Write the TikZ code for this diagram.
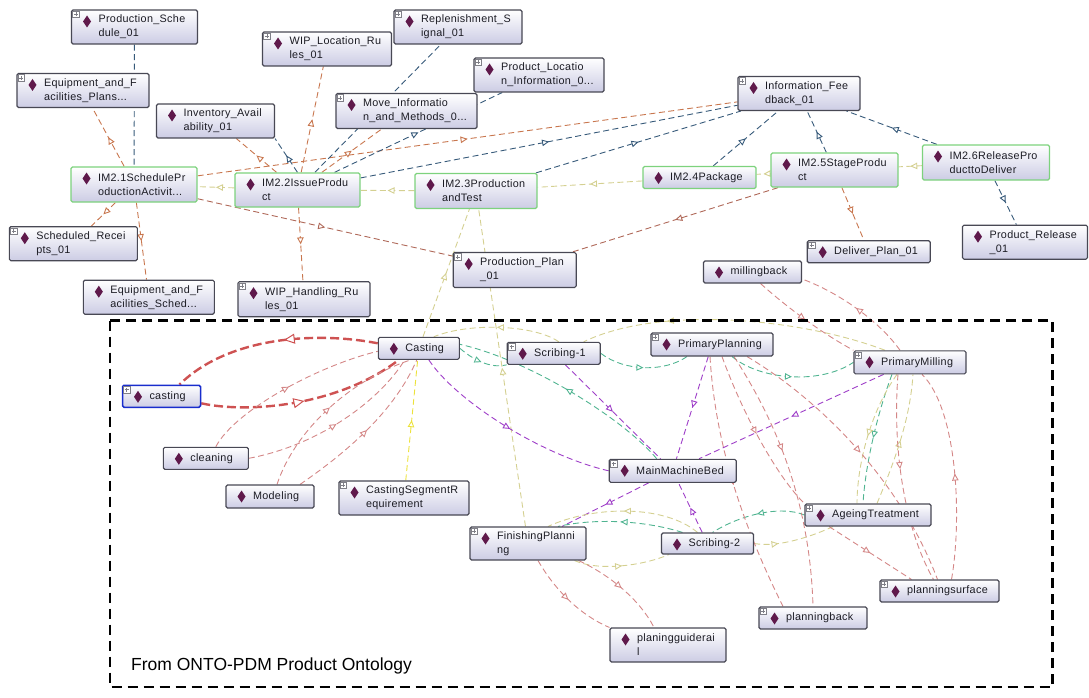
\documentclass[tikz,border=0pt]{standalone}
\usepackage{fontspec}
\newfontfamily\ontofont[LetterSpace=3]{Liberation Sans}
\newfontfamily\notefont{Liberation Sans}
\usepackage{xcolor}
\usepackage{tikz}
\usetikzlibrary{arrows.meta, decorations.markings, backgrounds}
\definecolor{OGBorder}{RGB}{72, 72, 84}
\definecolor{OGGreen}{RGB}{125, 210, 125}
\definecolor{OGSelect}{RGB}{25, 45, 205}
\definecolor{OGFill}{RGB}{204, 204, 228}
\definecolor{OGDiamond}{RGB}{95, 25, 75}
\definecolor{OGText}{RGB}{28, 28, 36}
\definecolor{OGOrange}{RGB}{200, 118, 78}
\definecolor{OGSteel}{RGB}{55, 90, 122}
\definecolor{OGOlive}{RGB}{212, 208, 145}
\definecolor{OGPink}{RGB}{212, 135, 135}
\definecolor{OGTeal}{RGB}{80, 180, 145}
\definecolor{OGPurple}{RGB}{158, 62, 200}
\definecolor{OGYellow}{RGB}{236, 226, 60}
\definecolor{OGRed}{RGB}{206, 82, 82}
\definecolor{OGBrown}{RGB}{175, 104, 88}

\tikzset{
  onto/.style={draw=OGBorder, line width=1.1pt, rounded corners=1.5pt,
    top color=white, bottom color=OGFill, inner sep=0pt, align=left,
    font=\ontofont\fontsize{10.8}{14}\selectfont, text=OGText,
    execute at begin node={\leftskip=27pt\relax},
    path picture={\fill[OGDiamond, sharp corners]
      ([xshift=15.5pt, yshift=-11.5pt]path picture bounding box.north west)
      ++(0,6pt) -- ++(4pt,-6pt) -- ++(-4pt,-6pt) -- ++(-4pt,6pt) -- cycle;}},
  process/.style={onto, draw=OGGreen, line width=1.3pt},
  picked/.style={onto, draw=OGSelect, line width=1.5pt},
  sz/.style 2 args={text width=#1pt, minimum width=#1pt, minimum height=#2pt},
  plusbox/.style={anchor=north west, draw=OGBorder!70, fill=white, line width=0.5pt,
    minimum size=6.5pt, inner sep=0pt, sharp corners,
    path picture={\draw[line width=0.6pt]
      ([xshift=-2pt]path picture bounding box.center) -- ++(4pt,0)
      ([yshift=-2pt]path picture bounding box.center) -- ++(0,4pt);}},
  link/.style={line width=0.9pt, dash pattern=on 6pt off 3.5pt},
  orangelink/.style={link, OGOrange},
  steellink/.style={link, OGSteel},
  olivelink/.style={link, OGOlive},
  pinklink/.style={link, OGPink},
  teallink/.style={link, OGTeal},
  purplelink/.style={link, OGPurple},
  yellowlink/.style={link, OGYellow},
  brownlink/.style={link, OGBrown},
  redlink/.style={OGRed, line width=2.4pt, dash pattern=on 9pt off 4pt},
  midtip/.style={postaction={decorate}, decoration={markings,
    mark=at position #1 with {\arrow{Triangle[fill=white, length=7pt, width=6.5pt]}}}},
  midtip/.default=0.5,
  bigtip/.style={postaction={decorate}, decoration={markings,
    mark=at position #1 with {\arrow{Triangle[fill=white, length=11pt, width=10pt, line width=1pt]}}}},
  bigtip/.default=0.5,
  frame/.style={black, line width=2.2pt, dash pattern=on 10pt off 6pt}
}

\begin{document}
\begin{tikzpicture}[x=1pt, y=-1pt]
  \useasboundingbox (0,0) rectangle (1089,698);

  % process ontology
  \node[onto, sz={126}{34}] (ps) at (134.5,27) {Production\_Sche\\dule\_01};
  \node[onto, sz={132}{34}] (efp) at (83,90.5) {Equipment\_and\_F\\acilities\_Plans...};
  \node[onto, sz={118}{34}] (inv) at (215.5,121) {Inventory\_Avail\\ability\_01};
  \node[onto, sz={129}{34}] (wiploc) at (327,49) {WIP\_Location\_Ru\\les\_01};
  \node[onto, sz={128}{34}] (repl) at (458,27) {Replenishment\_S\\ignal\_01};
  \node[onto, sz={130}{34}] (ploc) at (539,75) {Product\_Locatio\\n\_Information\_0...};
  \node[onto, sz={141}{35}] (move) at (406.5,111) {Move\_Informatio\\n\_and\_Methods\_0...};
  \node[onto, sz={122}{34}] (info) at (799,93.5) {Information\_Fee\\dback\_01};
  \node[process, sz={126}{35}] (im21) at (134,184.5) {IM2.1SchedulePr\\oductionActivit...};
  \node[process, sz={125}{34}] (im22) at (297.5,190) {IM2.2IssueProdu\\ct};
  \node[process, sz={122}{35}] (im23) at (476,191) {IM2.3Production\\andTest};
  \node[process, sz={113}{22}] (im24) at (699.5,177.5) {IM2.4Package};
  \node[process, sz={127}{34}] (im25) at (834.5,170) {IM2.5StageProdu\\ct};
  \node[process, sz={127}{35}] (im26) at (986,162.5) {IM2.6ReleasePro\\ducttoDeliver};
  \node[onto, sz={128}{34}] (srec) at (73.3,243.7) {Scheduled\_Recei\\pts\_01};
  \node[onto, sz={131}{34}] (efs) at (148.8,297.2) {Equipment\_and\_F\\acilities\_Sched...};
  \node[onto, sz={132}{35}] (wiph) at (304,299.2) {WIP\_Handling\_Ru\\les\_01};
  \node[onto, sz={123}{35}] (pplan) at (514.7,270) {Production\_Plan\\\_01};
  \node[onto, sz={123}{22}] (dplan) at (868.7,251.7) {Deliver\_Plan\_01};
  \node[onto, sz={125}{34}] (prel) at (1025,242.2) {Product\_Release\\\_01};
  \node[onto, sz={98}{22}] (mback) at (752.5,272) {millingback};

  % product ontology
  \node[onto, sz={81}{22}] (cast) at (418.8,348.3) {Casting};
  \node[picked, sz={78}{22}] (castl) at (161.5,396.3) {casting};
  \node[onto, sz={93}{22}] (scr1) at (553.7,353.3) {Scribing-1};
  \node[onto, sz={122}{23}] (ppl) at (712,344.5) {PrimaryPlanning};
  \node[onto, sz={112}{23}] (pmill) at (910,362.3) {PrimaryMilling};
  \node[onto, sz={85}{22}] (clean) at (205.8,458.3) {cleaning};
  \node[onto, sz={88}{23}] (model) at (270,496.5) {Modeling};
  \node[onto, sz={130}{34}] (csr) at (404,498) {CastingSegmentR\\equirement};
  \node[onto, sz={127}{23}] (mmb) at (672.7,470.8) {MainMachineBed};
  \node[onto, sz={126}{22}] (ageing) at (868,515) {AgeingTreatment};
  \node[onto, sz={116}{33}] (finp) at (528,543.5) {FinishingPlanni\\ng};
  \node[onto, sz={92}{21}] (scr2) at (707.5,543.5) {Scribing-2};
  \node[onto, sz={119}{22}] (psurf) at (939.5,591) {planningsurface};
  \node[onto, sz={108}{22}] (pback) at (813,618) {planningback};
  \node[onto, sz={116}{34}] (pguide) at (668,645) {planingguiderai\\l};

  \foreach \n in {ps,efp,wiploc,repl,ploc,move,info,srec,wiph,pplan,dplan,
                  castl,scr1,ppl,pmill,csr,mmb,ageing,finp,psurf,pback}
    \node[plusbox] (\n-plus) at ([shift={(1.5pt,-1.5pt)}]\n.north west) {};

  \begin{scope}[on background layer]
    \draw[steellink] (ps) -- (im21);
    \draw[orangelink, midtip] (im21) -- (efp);
    \draw[orangelink, midtip] (im21) -- (srec);
    \draw[orangelink, midtip] (im21) -- (efs);
    \draw[brownlink, midtip] (im21) -- (pplan);
    \draw[orangelink, midtip] (im21) -- (info);
    \draw[olivelink, midtip] (im22) -- (im21);
    \draw[olivelink, midtip] (im23) -- (im22);
    \draw[olivelink, midtip] (im24) -- (im23);
    \draw[olivelink, midtip] (im25) -- (im24);
    \draw[olivelink, midtip] (im26) -- (im25);
    \draw[orangelink, midtip] (im22) -- (wiph);
    \draw[orangelink, midtip] (im22) -- (wiploc);
    \draw[orangelink, midtip] (im22) -- (inv);
    \draw[steellink, midtip] (im22.north) -- (inv.south east);
    \draw[orangelink, midtip] (im22) -- (move);
    \draw[steellink, midtip] (im22) -- (repl);
    \draw[steellink, midtip] (im22) -- (ploc);
    \draw[steellink, midtip] (im22) -- (info);
    \draw[steellink, midtip] (im23) -- (info);
    \draw[steellink, midtip] (im24) -- (info);
    \draw[steellink, midtip] (im25) -- (info);
    \draw[steellink, midtip] (im26) -- (info);
    \draw[steellink, midtip] (im26) -- (prel);
    \draw[orangelink, midtip] (im25) -- (dplan);
    \draw[brownlink, midtip] (im25) -- (pplan);
    \draw[olivelink, midtip] (cast) -- (im23);
    \draw[olivelink, midtip] (finp) -- (im23);

    \draw[redlink, bigtip=0.45] ([yshift=5pt]cast.west) .. controls (320,332) and (230,335) .. ([xshift=18pt]castl.north);
    \draw[redlink, bigtip] ([yshift=-7pt]castl.east) .. controls (250,414) and (340,405) .. ([xshift=-20pt]cast.south);
    \draw[pinklink, midtip] ([xshift=10pt]clean.north) .. controls (235,410) and (320,365) .. ([yshift=-3pt]cast.west);
    \draw[pinklink, midtip] (clean.east) .. controls (320,445) and (380,400) .. ([xshift=-14pt]cast.south);
    \draw[pinklink, midtip] ([xshift=7pt]model.north) .. controls (295,430) and (350,380) .. ([xshift=-8pt]cast.south);
    \draw[pinklink, midtip] ([xshift=30pt]model.north) .. controls (350,450) and (395,410) .. ([xshift=-2pt]cast.south);
    \draw[yellowlink, midtip] (csr) -- (cast);
    \draw[purplelink, midtip] ([xshift=10pt]cast.south) .. controls (455,400) and (540,455) .. (mmb.west);
    \draw[teallink, midtip] (cast.east) .. controls (478,364) and (495,368) .. (scr1.south west);
    \draw[teallink, midtip] ([xshift=-16pt]mmb.north) .. controls (625,420) and (530,360) .. ([yshift=4pt]cast.east);
    \draw[teallink, midtip] (scr1.east) .. controls (625,372) and (665,372) .. ([xshift=-25pt]ppl.south);
    \draw[teallink, midtip] ([xshift=20pt]ppl.south) .. controls (760,380) and (820,385) .. (pmill.west);
    \draw[olivelink, midtip] ([xshift=5pt]scr1.north) .. controls (535,325) and (470,322) .. ([xshift=15pt]cast.north);
    \draw[olivelink, midtip=0.72] ([xshift=-25pt]pmill.north) .. controls (800,318) and (660,305) .. ([xshift=30pt]scr1.north);
    \draw[purplelink, midtip] (scr1) -- (mmb);
    \draw[purplelink, midtip] (scr2) -- (mmb);
    \draw[purplelink, midtip] (ppl) -- (mmb);
    \draw[purplelink, midtip] (pmill) -- (mmb);
    \draw[purplelink, midtip] (mmb) -- (finp);
    \draw[teallink, midtip] ([xshift=-25pt]scr2.north) .. controls (650,522) and (600,517) .. ([xshift=30pt]finp.north);
    \draw[olivelink, midtip] ([xshift=-10pt]scr2.north) .. controls (665,505) and (595,505) .. ([xshift=20pt]finp.north);
    \draw[olivelink, midtip] ([xshift=-12pt]finp.south east) .. controls (600,572) and (645,565) .. ([xshift=8pt]scr2.south west);
    \draw[olivelink, midtip=0.3] (scr2.east) .. controls (780,548) and (815,535) .. ([xshift=-35pt]ageing.south);
    \draw[teallink, midtip] ([xshift=-18pt]pmill.south) .. controls (875,420) and (865,470) .. ([xshift=-5pt]ageing.north);
    \draw[olivelink, midtip] ([xshift=-13pt]pmill.south) .. controls (868,415) and (857,470) .. ([xshift=-11pt]ageing.north);
    \draw[olivelink, midtip] ([xshift=9pt]ageing.north) .. controls (895,460) and (910,420) .. ([xshift=3pt]pmill.south);
    \draw[teallink, midtip] (ageing.west) .. controls (780,505) and (740,515) .. ([xshift=5pt]scr2.north);
    \draw[pinklink, midtip] ([xshift=-39pt]ageing.south) -- ([xshift=-28pt]psurf.north);
    \draw[pinklink, midtip=0.45] ([xshift=-12pt]pmill.south) .. controls (892,450) and (905,530) .. ([xshift=-6pt]psurf.north);
    \draw[pinklink, midtip] ([xshift=35pt]ppl.south) .. controls (820,400) and (900,480) .. ([xshift=-2pt]psurf.north);
    \draw[pinklink, midtip] ([xshift=12pt]psurf.north) .. controls (962,520) and (958,410) .. ([xshift=12pt]pmill.south);
    \draw[pinklink, midtip] ([xshift=-10pt]pmill.north) .. controls (880,322) and (840,293) .. ([yshift=-7pt]mback.east);
    \draw[pinklink, midtip] ([xshift=8pt]mback.south) .. controls (790,310) and (825,335) .. (pmill.north west);
    \draw[pinklink, midtip] ([xshift=10pt]ppl.south) .. controls (745,420) and (780,480) .. (ageing.north west);
    \draw[pinklink, midtip=0.4] ([xshift=22pt]ppl.south) .. controls (775,420) and (810,500) .. (pback.north);
    \draw[pinklink, midtip] ([xshift=-2pt]ppl.south) .. controls (715,440) and (740,520) .. ([xshift=-30pt]pback.north);
    \draw[pinklink, midtip] ([xshift=10pt]finp.south) .. controls (555,590) and (580,615) .. (pguide.north west);
    \draw[pinklink, midtip] ([xshift=-8pt]finp.south east) .. controls (610,575) and (640,600) .. ([xshift=-14pt]pguide.north);
  \end{scope}

  \draw[frame] (110,320.5) rectangle (1052.5,687);
  \node[font=\notefont\fontsize{17.5}{20}\selectfont, anchor=base west, inner sep=0pt] (srcnote) at (131,670) {From ONTO-PDM Product Ontology};
\end{tikzpicture}
\end{document}
